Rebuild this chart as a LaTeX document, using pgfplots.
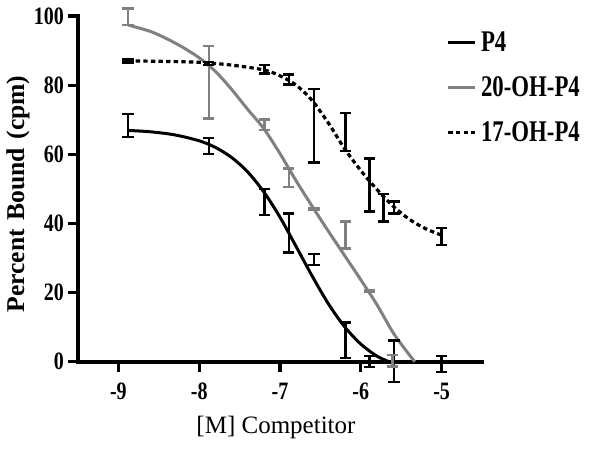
\documentclass[border=0pt]{standalone}
\usepackage{fontspec}
\setmainfont{Liberation Serif}
\newfontfamily\tickfont{Liberation Serif}[FakeStretch=0.8]
\newfontfamily\legfont{Liberation Serif}[FakeStretch=0.76]
\usepackage{pgfplots}
\pgfplotsset{compat=1.18}
\definecolor{midgray}{gray}{0.5}

\begin{document}
\begin{tikzpicture}
\begin{axis}[
  at={(0,0)}, anchor=south west,
  scale only axis, width=202pt, height=172.85pt,
  xmin=-9.5, xmax=-4.5, ymin=0, ymax=100,
  clip=false,
  axis lines=left,
  axis line style={-, line width=2pt, line cap=rect},
  tick align=outside, major tick length=5pt,
  tick style={line width=1.6pt, black},
  xtick={-9,-8,-7,-6,-5}, xticklabels={-9,-8,-7,-6,-5},
  ytick={0,20,40,60,80,100}, yticklabels={0,20,40,60,80,100},
  ticklabel style={font=\tickfont\bfseries\fontsize{12.5}{12.5}\selectfont},
  xticklabel style={yshift=-2pt},
  yticklabel style={xshift=1.5pt},
  xlabel={[M] Competitor},
  ylabel={Percent\,\,Bound\,\,(cpm)},
  xlabel style={font=\fontsize{12.5}{13}\selectfont, at={(axis description cs:0.49,0)}, anchor=center, yshift=-33pt},
  ylabel style={font=\bfseries\fontsize{12.8}{13}\selectfont, at={(axis description cs:0,0.485)}, anchor=center, yshift=30pt},
  legend cell align=left,
  legend style={at={(axis description cs:0.912,0.962)}, anchor=north west,
    draw=none, fill=none, inner sep=0pt, row sep=9pt,
    font=\legfont\bfseries\fontsize{15}{15}\selectfont,
    nodes={inner xsep=2pt, inner ysep=1pt}},
  legend image code/.code={\draw[#1] (0pt,0pt) -- (13.5pt,0pt);},
]
% fitted curves
\addplot[black, line width=1.5pt, smooth] coordinates {
 (-8.88,66.9)(-8.6,66.5)(-8.3,65.6)(-8.0,63.9)(-7.8,62.0)(-7.6,59.1)(-7.4,54.9)
 (-7.2,49.1)(-7.0,41.8)(-6.8,33.3)(-6.6,24.7)(-6.4,16.7)(-6.2,10.1)(-6.0,5.1)
 (-5.8,1.6)(-5.65,0.0)
};
\addlegendentry{P4}
\addplot[midgray, line width=1.5pt, smooth] coordinates {
 (-8.88,97.4)(-8.6,95.5)(-8.4,93.4)(-8.2,90.9)(-8.0,87.9)(-7.8,84.0)(-7.6,78.8)
 (-7.4,73.0)(-7.2,67.4)(-7.0,60.2)(-6.8,52.3)(-6.6,44.9)(-6.4,37.7)(-6.2,30.7)
 (-6.0,23.7)(-5.8,16.5)(-5.6,8.4)(-5.4,2.0)(-5.33,0.0)
};
\addlegendentry{20-OH-P4}
\addplot[black, line width=1.6pt, smooth, dash pattern=on 2.2pt off 1.6pt] coordinates {
 (-8.88,87.0)(-8.5,86.9)(-8.0,86.6)(-7.6,85.8)(-7.2,84.4)(-7.0,82.7)(-6.8,80.0)
 (-6.6,75.5)(-6.4,69.0)(-6.2,61.6)(-6.0,55.3)(-5.8,49.8)(-5.6,45.0)(-5.4,41.2)
 (-5.2,38.5)(-5.0,36.6)
};
\addlegendentry{17-OH-P4}
% error bars (no marks)
\addplot[forget plot, draw=none, mark=none,
  error bars/.cd, y dir=both, y explicit,
  error bar style={draw=black, line width=1.2pt, solid},
  error mark options={rotate=90, mark size=2.8pt, line width=1.2pt, draw=black}]
coordinates {
 (-8.88,68.3) +- (0,3.3)
 (-7.88,62.4) +- (0,2.3)
 (-7.19,46.15) +- (0,3.75)
 (-6.89,37.25) +- (0,5.65)
 (-6.58,29.55) +- (0,1.55)
 (-6.19,6.2) +- (0,5.1)
 (-5.89,0.0) +- (0,1.6)
 (-5.59,0.1) +- (0,6.0)
 (-5.0,-0.6) +- (0,2.3)
};
\addplot[forget plot, draw=none, mark=none,
  error bars/.cd, y dir=both, y explicit,
  error bar style={draw=midgray, line width=1.2pt, solid},
  error mark options={rotate=90, mark size=2.8pt, line width=1.2pt, draw=midgray}]
coordinates {
 (-8.88,99.8) +- (0,2.4)
 (-7.88,80.85) +- (0,10.45)
 (-7.19,68.55) +- (0,1.55)
 (-6.89,53.25) +- (0,2.65)
 (-6.58,44.2) +- (0,0.3)
 (-6.19,36.65) +- (0,3.85)
 (-5.89,20.5) +- (0,0.3)
 (-5.61,0.25) +- (0,1.65)
};
\addplot[forget plot, draw=none, mark=none,
  error bars/.cd, y dir=both, y explicit,
  error bar style={draw=black, line width=1.2pt, solid},
  error mark options={rotate=90, mark size=2.8pt, line width=1.2pt, draw=black}]
coordinates {
 (-8.88,87.0) +- (0,0.4)
 (-7.88,86.3) +- (0,0.4)
 (-7.19,84.6) +- (0,1.2)
 (-6.89,81.65) +- (0,1.45)
 (-6.58,68.2) +- (0,10.6)
 (-6.19,66.4) +- (0,5.5)
 (-5.89,51.1) +- (0,7.7)
 (-5.72,44.5) +- (0,4.0)
 (-5.59,44.6) +- (0,1.7)
 (-5.0,36.2) +- (0,2.4)
};
\end{axis}
\pgfresetboundingbox
\path[use as bounding box] (-39pt,-44.15pt) rectangle (261pt,180.85pt);
\end{tikzpicture}
\end{document}
